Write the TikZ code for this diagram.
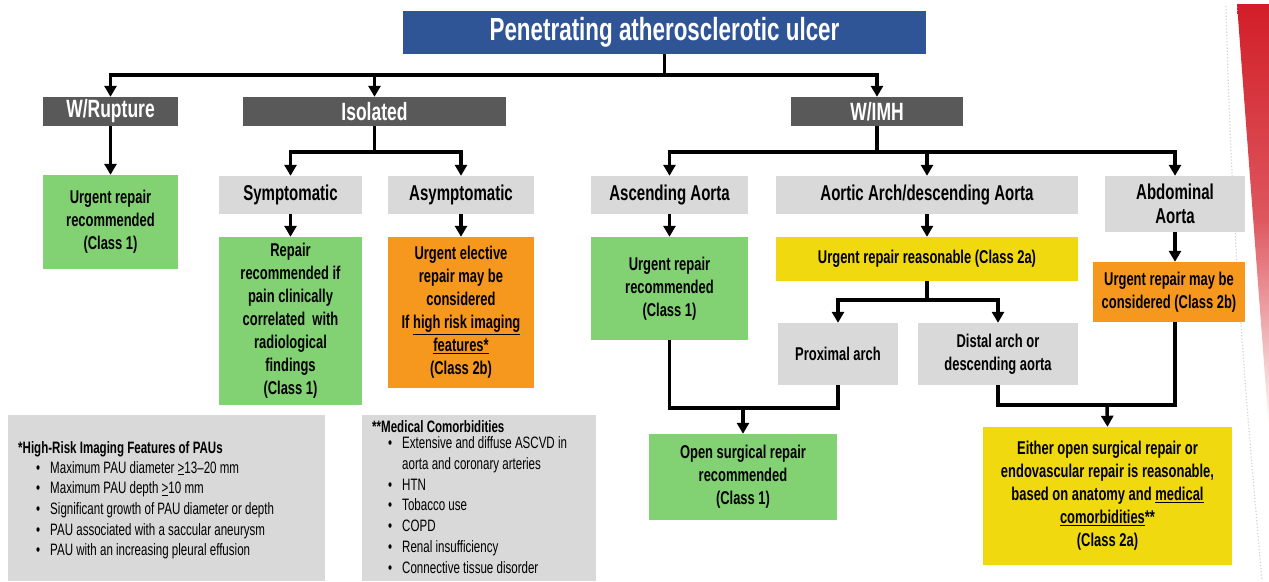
\documentclass[tikz,border=0pt]{standalone}
\usepackage{fontspec}
\setmainfont{Liberation Sans}[FakeStretch=0.7]
\usepackage{tikz}
\usetikzlibrary{arrows.meta, positioning, calc}
\definecolor{titleblue}{RGB}{47,85,151}
\definecolor{catgray}{RGB}{89,89,89}
\definecolor{subgray}{RGB}{217,217,217}
\definecolor{resgreen}{RGB}{130,210,115}
\definecolor{resorange}{RGB}{247,152,30}
\definecolor{resyellow}{RGB}{240,217,15}
\definecolor{stripered}{RGB}{210,30,40}
\tikzset{
  basebox/.style={rectangle,inner sep=2pt,align=center,text=black},
  titlenode/.style={basebox,fill=titleblue,text=white,font=\fontsize{32}{36}\selectfont\bfseries},
  catnode/.style={basebox,fill=catgray,text=white,font=\fontsize{25}{28}\selectfont\bfseries},
  subnode/.style={basebox,fill=subgray,font=\fontsize{21.5}{24}\selectfont\bfseries},
  greennode/.style={basebox,fill=resgreen,font=\fontsize{18.5}{23}\selectfont\bfseries},
  orangenode/.style={basebox,fill=resorange,font=\fontsize{18.5}{23}\selectfont\bfseries},
  yellownode/.style={basebox,fill=resyellow,font=\fontsize{18.5}{23}\selectfont\bfseries},
  notebox/.style={rectangle,fill=subgray,inner sep=0pt},
  notetext/.style={inner sep=0pt,align=left,font=\fontsize{16.5}{20.7}\selectfont},
  ln/.style={line width=3.5pt,color=black},
  arr/.style={ln,-{Triangle[width=12pt,length=11pt]}}
}

\begin{document}
\begin{tikzpicture}[x=1pt,y=-1pt]
  \useasboundingbox (0,0) rectangle (1269,581);

  % corner stripe
  \shade[top color=stripered,bottom color=white,middle color=stripered!75]
    (1237,4) -- (1269,4) -- (1269,430) -- cycle;
  \draw[gray!35,dotted,line width=1.2pt] (1226,6) .. controls (1232,250) and (1248,420) .. (1262,581);

  % top levels
  \node[titlenode,minimum width=523,minimum height=43] (title) at (664.5,32.5)
      {Penetrating atherosclerotic ulcer};
  \node[catnode,minimum width=135,minimum height=29] (rupt) at (110.5,111.5) {W/Rupture};
  \node[catnode,minimum width=263,minimum height=29] (iso) at (374.5,111.5) {Isolated};
  \node[catnode,minimum width=172,minimum height=29] (imh) at (877,111.5) {W/IMH};

  % ruptured / isolated branch
  \node[greennode,minimum width=135,minimum height=94] (ruptres) at (110.5,222)
      {Urgent repair\\recommended\\(Class 1)};
  \node[subnode,minimum width=143,minimum height=38] (symp) at (290.5,195) {Symptomatic};
  \node[subnode,minimum width=146,minimum height=38] (asymp) at (461,195) {Asymptomatic};
  \node[greennode,minimum width=143,minimum height=168] (sympres) at (290.5,321)
      {Repair\\recommended if\\pain clinically\\correlated\ \ with\\radiological\\findings\\(Class 1)};
  \node[orangenode,minimum width=146,minimum height=151] (asympres) at (461,312.5)
      {Urgent elective\\repair may be\\considered\\If \underline{high risk imaging}\\\underline{features*}\\(Class 2b)};

  % IMH branch
  \node[subnode,minimum width=157,minimum height=38] (asc) at (669.5,195) {Ascending Aorta};
  \node[subnode,minimum width=302,minimum height=38] (arch) at (927,195) {Aortic Arch/descending Aorta};
  \node[subnode,minimum width=140,minimum height=56] (abd) at (1175,204) {Abdominal\\Aorta};
  \node[greennode,minimum width=157,minimum height=103] (ascres) at (669.5,288.5)
      {Urgent repair\\recommended\\(Class 1)};
  \node[yellownode,minimum width=302,minimum height=44] (archres) at (927,259)
      {Urgent repair reasonable (Class 2a)};
  \node[orangenode,minimum width=152,minimum height=60] (abdres) at (1169,292)
      {Urgent repair may be\\considered (Class 2b)};
  \node[subnode,font=\fontsize{18.5}{23}\selectfont\bfseries,minimum width=120,minimum height=62] (prox) at (838,354)
      {Proximal arch};
  \node[subnode,font=\fontsize{18.5}{23}\selectfont\bfseries,minimum width=160,minimum height=62] (dist) at (998,354)
      {Distal arch or\\descending aorta};
  \node[greennode,minimum width=188,minimum height=86] (open) at (743,477)
      {Open surgical repair\\recommended\\(Class 1)};
  \node[yellownode,minimum width=249,minimum height=138] (either) at (1107.5,496)
      {Either open surgical repair or\\endovascular repair is reasonable,\\based on anatomy and \underline{medical}\\\underline{comorbidities}**\\(Class 2a)};

  % notes
  \node[notebox,minimum width=317,minimum height=166] (hrbox) at (166.5,498) {};
  \node[notebox,minimum width=234,minimum height=166] (combox) at (479,498) {};
  \node[notetext,anchor=north west] (hrtext) at (18,441)
      {\textbf{*High-Risk Imaging Features of PAUs}\\[1pt]
       \begin{tabular}{@{\hspace{18pt}}l@{\hspace{10pt}}l@{}}
       • & Maximum PAU diameter \underline{>}13--20 mm\\
       • & Maximum PAU depth \underline{>}10 mm\\
       • & Significant growth of PAU diameter or depth\\
       • & PAU associated with a saccular aneurysm\\
       • & PAU with an increasing pleural effusion
       \end{tabular}};
  \node[notetext,anchor=north west] (comtext) at (372,420)
      {\textbf{**Medical Comorbidities}\\[1pt]
       \begin{tabular}{@{\hspace{16pt}}l@{\hspace{10pt}}l@{}}
       • & Extensive and diffuse ASCVD in\\
         & aorta and coronary arteries\\
       • & HTN\\
       • & Tobacco use\\
       • & COPD\\
       • & Renal insufficiency\\
       • & Connective tissue disorder
       \end{tabular}};

  % connectors
  \coordinate (mergeL) at (743,408);
  \coordinate (mergeR) at (1107,405);
  \draw[arr] (title.south) -- ++(0,21) -| (rupt.north);
  \draw[arr] (title.south) -- ++(0,21) -| (iso.north);
  \draw[arr] (title.south) -- ++(0,21) -| (imh.north);
  \draw[arr] (rupt) -- (ruptres);
  \draw[arr] (iso.south) -- ++(0,26) -| (symp.north);
  \draw[arr] (iso.south) -- ++(0,26) -| (asymp.north);
  \draw[arr] (symp) -- (sympres);
  \draw[arr] (asymp) -- (asympres);
  \draw[arr] (imh.south) -- ++(0,26) -| (asc.north);
  \draw[arr] (imh.south) -- ++(0,26) -| (arch.north);
  \draw[arr] (imh.south) -- ++(0,26) -| (abd.north);
  \draw[arr] (asc) -- (ascres);
  \draw[arr] (arch) -- (archres);
  \draw[arr] (abd.south) -- (abd.south |- abdres.north);
  \draw[arr] (archres.south) -- ++(0,19) -| (prox.north);
  \draw[arr] (archres.south) -- ++(0,19) -| (dist.north);
  \draw[ln] (ascres.south) |- (mergeL) -| (prox.south);
  \draw[arr] (mergeL) -- (open.north);
  \draw[ln] (dist.south) |- (mergeR) -| (abd.south |- abdres.south);
  \draw[arr] (mergeR) -- (either.north);
\end{tikzpicture}
\end{document}
